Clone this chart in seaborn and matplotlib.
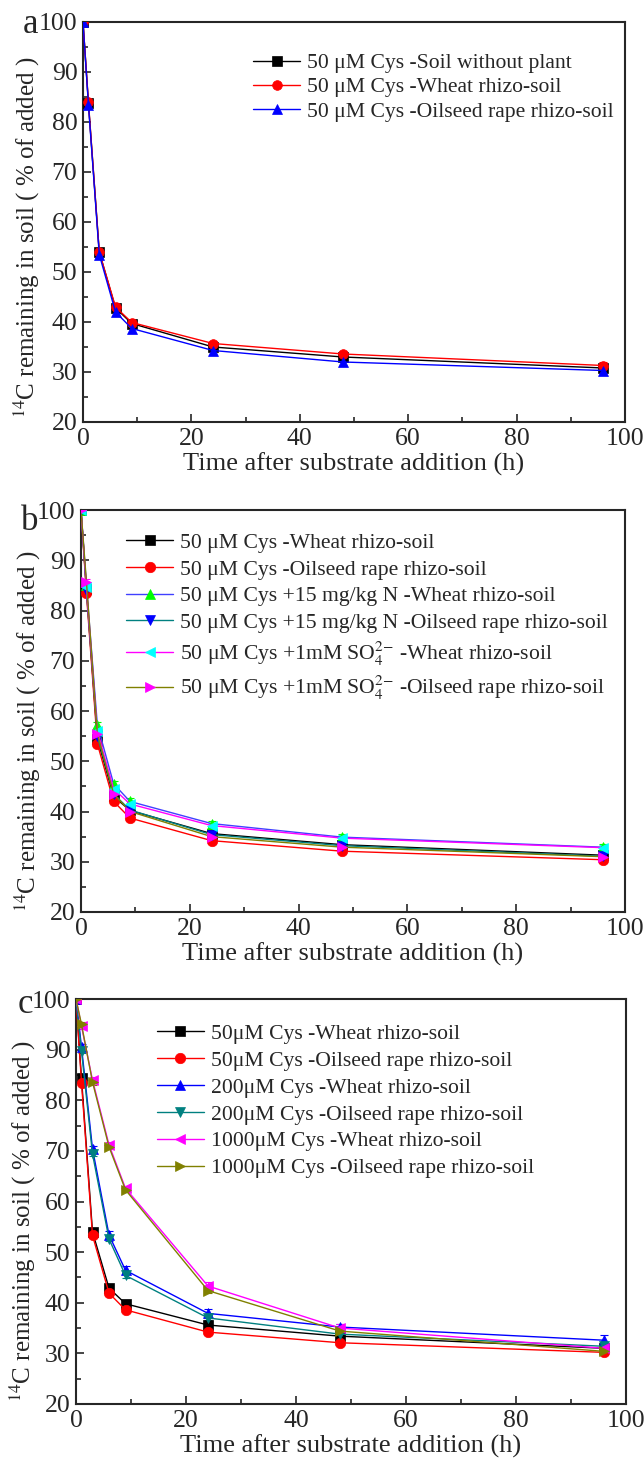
import numpy as np
import pandas as pd
import matplotlib
matplotlib.use("Agg")
import matplotlib.pyplot as plt
import seaborn as sns
from matplotlib.ticker import MultipleLocator

# --- datos ---
tiempo = [0, 1, 3, 6, 9, 24, 48, 96]

# panel a
a_suelo = [100, 83.8, 54.0, 42.8, 39.7, 35.0, 33.0, 30.8]
a_trigo = [100, 84.0, 54.0, 43.0, 39.9, 35.7, 33.6, 31.3]
a_colza = [100, 83.5, 53.5, 42.0, 38.7, 34.3, 32.0, 30.3]
a_suelo_err = [0, 0.4, 0.5, 0.5, 0.5, 0.5, 0.5, 0.5]
a_trigo_err = [0, 0.5, 0.5, 0.6, 0.6, 0.6, 0.6, 0.8]
a_colza_err = [0, 0.5, 0.6, 0.8, 0.8, 0.8, 0.8, 0.8]

# panel b
b_trigo = [100, 84.3, 54.5, 43.0, 40.2, 35.6, 33.4, 31.3]
b_colza = [100, 83.4, 53.5, 42.0, 38.7, 34.2, 32.1, 30.4]
b_n_trigo = [100, 85.0, 57.3, 45.5, 42.0, 37.6, 34.9, 32.9]
b_n_colza = [100, 84.0, 55.0, 43.5, 40.3, 35.4, 33.2, 31.1]
b_s_trigo = [100, 84.6, 56.0, 44.5, 41.5, 37.2, 34.7, 32.8]
b_s_colza = [100, 85.7, 55.5, 43.5, 40.0, 35.0, 32.9, 31.0]
b_err = [0, 0.5, 0.6, 0.6, 0.6, 0.6, 0.6, 0.6]

# panel c
c_50_trigo = [100, 84.3, 54.0, 42.9, 39.8, 35.6, 33.4, 31.0]
c_50_colza = [100, 83.5, 53.3, 41.9, 38.6, 34.2, 32.1, 30.2]
c_200_trigo = [100, 90.5, 70.4, 53.4, 46.4, 37.9, 35.2, 32.6]
c_200_colza = [100, 89.7, 69.4, 52.6, 45.4, 37.0, 33.8, 31.4]
c_1000_trigo = [100, 94.6, 84.0, 71.2, 62.6, 43.3, 35.0, 31.0]
c_1000_colza = [100, 95.0, 83.6, 70.8, 62.3, 42.4, 34.4, 30.4]
c_err = [0, 0.4, 0.5, 0.5, 0.5, 0.5, 0.5, 0.5]
c_200_trigo_err = [0, 0.6, 0.6, 0.8, 0.8, 0.9, 0.6, 1.0]
c_1000_trigo_err = [0, 0.5, 0.5, 0.5, 0.5, 0.8, 0.8, 0.6]

SO4 = r"SO$_4^{2\mathrm{-}}$"

# (etiqueta, valores, error, color linea, marcador, color marcador)
series_a = [
    ("50 μM Cys -Soil without plant", a_suelo, a_suelo_err, "black", "s", "black"),
    ("50 μM Cys -Wheat rhizo-soil", a_trigo, a_trigo_err, "red", "o", "red"),
    ("50 μM Cys -Oilseed rape rhizo-soil", a_colza, a_colza_err, "blue", "^", "blue"),
]
series_b = [
    ("50 μM Cys -Wheat rhizo-soil", b_trigo, b_err, "black", "s", "black"),
    ("50 μM Cys -Oilseed rape rhizo-soil", b_colza, b_err, "red", "o", "red"),
    ("50 μM Cys +15 mg/kg N -Wheat rhizo-soil", b_n_trigo, b_err, "#4040ff", "^", "#00ff00"),
    ("50 μM Cys +15 mg/kg N -Oilseed rape rhizo-soil", b_n_colza, b_err, "#008080", "v", "blue"),
    ("50 μM Cys +1mM " + SO4 + " -Wheat rhizo-soil", b_s_trigo, b_err, "#ff00ff", "<", "#00ffff"),
    ("50 μM Cys +1mM " + SO4 + " -Oilseed rape rhizo-soil", b_s_colza, b_err, "#808000", ">", "#ff00ff"),
]
series_c = [
    ("50μM Cys -Wheat rhizo-soil", c_50_trigo, c_err, "black", "s", "black"),
    ("50μM Cys -Oilseed rape rhizo-soil", c_50_colza, c_err, "red", "o", "red"),
    ("200μM Cys -Wheat rhizo-soil", c_200_trigo, c_200_trigo_err, "blue", "^", "blue"),
    ("200μM Cys -Oilseed rape rhizo-soil", c_200_colza, c_err, "#008080", "v", "#008080"),
    ("1000μM Cys -Wheat rhizo-soil", c_1000_trigo, c_1000_trigo_err, "#ff00ff", "<", "#ff00ff"),
    ("1000μM Cys -Oilseed rape rhizo-soil", c_1000_colza, c_err, "#808000", ">", "#808000"),
]

sns.set_style("ticks")
plt.rcParams['font.family'] = ['Liberation Serif', 'DejaVu Serif']
plt.rcParams['mathtext.fontset'] = 'stix'
plt.rcParams['axes.linewidth'] = 1.5

fig = plt.figure(figsize=(6.44, 14.6), dpi=100)
W, H = 644, 1460

# posiciones de los ejes en pixeles: izq, der, arriba, abajo
cajas = [(83, 625, 22, 422), (81, 625, 510, 912), (76, 626, 999, 1404)]
paneles = [series_a, series_b, series_c]
letras = [("a", 31, 33), ("b", 30, 530), ("c", 25, 1013)]
# x, y del ancla, separacion de filas, tamaño de marcador
leyendas = [(0.314, 0.922, 0.18, 7), (0.083, 0.943, 0.30, 7.5), (0.147, 0.939, 0.31, 7.5)]
# posicion del titulo del eje y (fraccion de ejes)
ylabs = [(-0.076, 0.462), (-0.070, 0.450), (-0.069, 0.452)]

for caja, series, letra, ley, yl in zip(cajas, paneles, letras, leyendas, ylabs):
    izq, der, arr, aba = caja
    ax = fig.add_axes([izq / W, 1 - aba / H, (der - izq) / W, (aba - arr) / H])
    for lab, vals, err, col, mk, mcol in series:
        ax.errorbar(tiempo, vals, yerr=err, fmt='none', ecolor=mcol,
                    elinewidth=0.8, capsize=3, capthick=0.8, zorder=2)
        sns.lineplot(x=tiempo, y=vals, ax=ax, color=col, lw=1.0, marker=mk,
                     markersize=ley[3], markerfacecolor=mcol,
                     markeredgecolor=mcol, markeredgewidth=0.5,
                     label=lab, zorder=3)
    ax.set_xlim(0, 100)
    ax.set_ylim(20, 100)
    ax.xaxis.set_major_locator(MultipleLocator(20))
    ax.xaxis.set_minor_locator(MultipleLocator(10))
    ax.yaxis.set_major_locator(MultipleLocator(10))
    ax.yaxis.set_minor_locator(MultipleLocator(5))
    ax.tick_params(which='both', direction='in', labelsize=18.5, width=1.2, pad=4)
    ax.tick_params(which='major', length=6)
    ax.tick_params(which='minor', length=3.5)
    ax.set_xlabel("Time after substrate addition (h)", fontsize=19, labelpad=2)
    ax.set_ylabel("$^{14}$C remaining in soil ( % of added )", fontsize=18)
    ax.yaxis.set_label_coords(yl[0], yl[1])
    ax.legend(loc='upper left', bbox_to_anchor=(ley[0], ley[1]), frameon=False,
              fontsize=15.6, borderaxespad=0, borderpad=0, labelspacing=ley[2],
              handlelength=2.17, handletextpad=0.32)
    fig.text(letra[1] / W, 1 - letra[2] / H, letra[0], fontsize=25,
             ha='center', va='baseline')

fig.savefig("out.png", dpi=100)
